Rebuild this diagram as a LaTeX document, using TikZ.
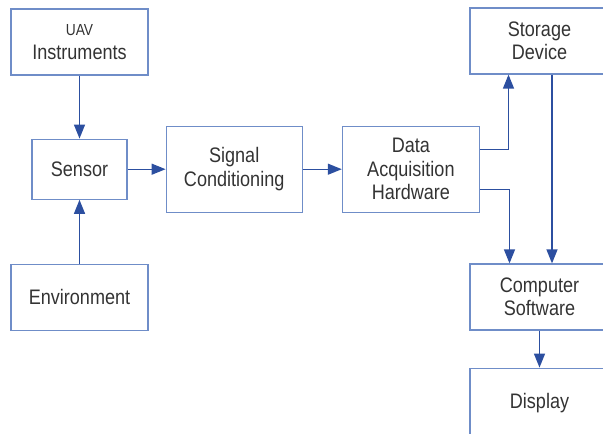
\documentclass[tikz,border=0pt]{standalone}
\usepackage{fontspec}
\setmainfont[FakeStretch=0.86]{Liberation Sans}
\usetikzlibrary{shapes,positioning,arrows.meta,calc}
\usepackage{xcolor}
\definecolor{boxblue}{HTML}{6F8DC8}
\definecolor{arrowblue}{HTML}{2C4FA0}
\definecolor{textgrey}{HTML}{333333}

\begin{document}
\begin{tikzpicture}[x=1pt,y=-1pt]

	\tikzstyle{stdrect}=[draw=boxblue, line width=1.2pt, rectangle, align=center, text=textgrey, font=\fontsize{21}{23.5}\selectfont];
	\tikzstyle{flow}=[draw=arrowblue, line width=1.3pt];
	\clip (0,0) rectangle (603,434);
    \begin{scope}[>={Triangle[length=14pt,width=11pt]}]

    	\node (uav_inst) at (79.5,42) [stdrect, minimum width=137pt, minimum height=66pt]{{\fontsize{16}{23.5}\selectfont UAV}\\Instruments};
    	\node (sensor) [below = 63pt of uav_inst, stdrect, minimum width=95pt, minimum height=60pt]{Sensor};
    	\node (environment) [below = 64pt of sensor, stdrect, minimum width=137pt, minimum height=66pt]{Environment};
    	\node (signal_cond) [right = 38pt of sensor, stdrect, minimum width=136pt, minimum height=86pt]{Signal\\Conditioning};
    	\node (daq_hw) [right = 39pt of signal_cond, stdrect, minimum width=137pt, minimum height=86pt]{Data\\Acquisition\\Hardware};
    	\node (storage) at (539.5,41) [stdrect, minimum width=139pt, minimum height=66pt]{Storage\\Device};
    	\node (computer) at (539.5,297) [stdrect, minimum width=139pt, minimum height=66pt]{Computer\\Software};
    	\node (display) [below = 37pt of computer, stdrect, minimum width=139pt, minimum height=70pt]{Display};

    	\draw[flow,->] (uav_inst) -- (sensor);
    	\draw[flow,->] (environment) -- (sensor);
    	\draw[flow,->] (sensor) -- (signal_cond);
    	\draw[flow,->] (signal_cond) -- (daq_hw);
    	\draw[flow,->] ([yshift=20pt]daq_hw.east) -| ([xshift=-31pt]storage.south);
    	\draw[flow,->] ([yshift=-20pt]daq_hw.east) -| ([xshift=-30pt]computer.north);
    	\draw[flow,->] ([xshift=12.5pt]storage.south) -- ([xshift=12.5pt]computer.north);
    	\draw[flow,->] (computer) -- (display);

    \end{scope}
\end{tikzpicture}
\end{document}
